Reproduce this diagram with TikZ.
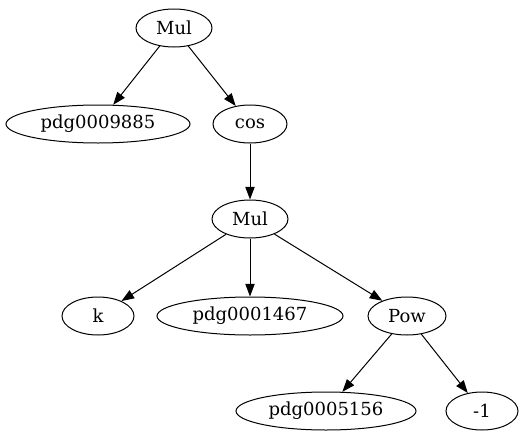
\documentclass[tikz,border=0pt]{standalone}
\usepackage{fontspec}
\setmainfont{DejaVu Serif}
\usetikzlibrary{shapes.geometric}
\usetikzlibrary{arrows.meta}
\tikzset{x=0.75pt, y=-0.75pt,
every node/.style={ % ellipse for each term
ellipse,
draw,
line width=0.75pt,
inner sep=0pt,
minimum height=28.5pt,
font=\fontsize{13.5}{15}\selectfont},
every edge/.style={ % directed links
draw,
-{Triangle[length=9.5pt,width=7pt]},
line width=0.75pt}}

\begin{document}
\begin{tikzpicture}
	\useasboundingbox (0,0) rectangle (525,443);
	\node[minimum width=57pt] (mul1) at (174,28) {Mul};
	\node[minimum width=138pt] (p9885) at (98,124) {pdg0009885};
	\node[minimum width=55.5pt] (cos) at (250,124) {cos};
	\node[minimum width=57pt] (mul2) at (250,219) {Mul};
	\node[minimum width=54pt] (k) at (98,316) {k};
	\node[minimum width=139.5pt] (p1467) at (250,316) {pdg0001467};
	\node[minimum width=58.5pt] (pow) at (407,316) {Pow};
	\node[minimum width=135pt] (p5156) at (326,411) {pdg0005156};
	\node[minimum width=54pt] (m1) at (482,411) {-1};
	\draw (mul1) edge (p9885);
	\draw (mul1) edge (cos);
	\draw (cos) edge (mul2);
	\draw (mul2) edge (k);
	\draw (mul2) edge (p1467);
	\draw (mul2) edge (pow);
	\draw (pow) edge (p5156);
	\draw (pow) edge (m1);
\end{tikzpicture}
\end{document}
